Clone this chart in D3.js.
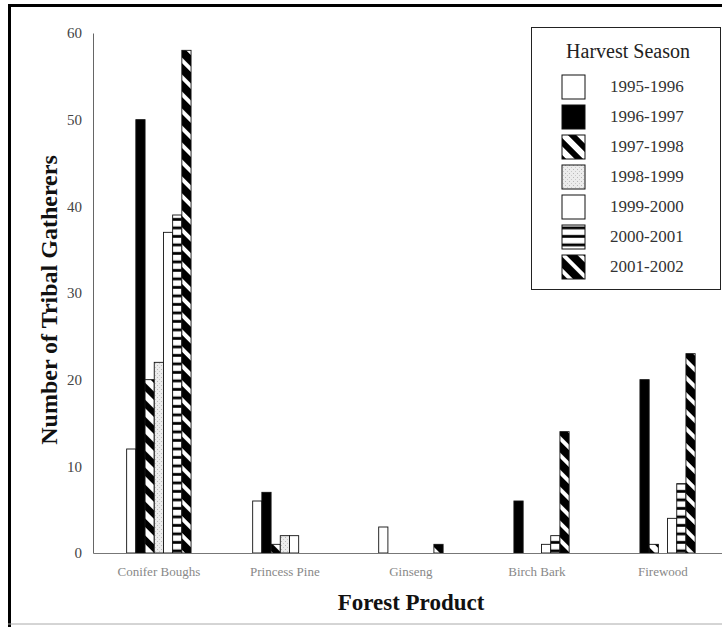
<!DOCTYPE html>
<html><head><meta charset="utf-8">
<script src="https://cdn.jsdelivr.net/npm/d3@7"></script>
<style>html,body{margin:0;padding:0;background:#fff;}svg{display:block;}</style>
</head><body>
<script>
const categories = ["Conifer Boughs", "Princess Pine", "Ginseng", "Birch Bark", "Firewood"];
const seasons = ["1995-1996", "1996-1997", "1997-1998", "1998-1999", "1999-2000", "2000-2001", "2001-2002"];
const s1995_1996 = [12, 6, 3, 0, 0];
const s1996_1997 = [50, 7, 0, 6, 20];
const s1997_1998 = [20, 1, 0, 0, 1];
const s1998_1999 = [22, 2, 0, 0, 0];
const s1999_2000 = [37, 2, 0, 1, 4];
const s2000_2001 = [39, 0, 0, 2, 8];
const s2001_2002 = [58, 0, 1, 14, 23];
const yTicks = [0, 10, 20, 30, 40, 50, 60];
const seriesValues = [s1995_1996, s1996_1997, s1997_1998, s1998_1999, s1999_2000, s2000_2001, s2001_2002];
const fills = ["#fff", "#000", "url(#diagA)", "url(#stipple)", "#fff", "url(#hstripe)", "url(#diagB)"];

const W = 722, H = 627;
const svg = d3.select("body").append("svg").attr("width", W).attr("height", H);
const defs = svg.append("defs");

// patterns
const pA = defs.append("pattern").attr("id", "diagA").attr("patternUnits", "userSpaceOnUse")
  .attr("width", 12).attr("height", 12).attr("patternTransform", "rotate(45)");
pA.append("rect").attr("width", 12).attr("height", 12).attr("fill", "#fff");
pA.append("rect").attr("width", 12).attr("height", 6).attr("fill", "#000");
const pB = defs.append("pattern").attr("id", "diagB").attr("patternUnits", "userSpaceOnUse")
  .attr("width", 12).attr("height", 12).attr("patternTransform", "rotate(45)");
pB.append("rect").attr("width", 12).attr("height", 12).attr("fill", "#fff");
pB.append("rect").attr("width", 12).attr("height", 8).attr("fill", "#000");
const pH = defs.append("pattern").attr("id", "hstripe").attr("patternUnits", "userSpaceOnUse")
  .attr("width", 8).attr("height", 8.5);
pH.append("rect").attr("width", 8).attr("height", 8.5).attr("fill", "#fff");
pH.append("rect").attr("y", 5.5).attr("width", 8).attr("height", 2.8).attr("fill", "#000");
const pS = defs.append("pattern").attr("id", "stipple").attr("patternUnits", "userSpaceOnUse")
  .attr("width", 4).attr("height", 4);
pS.append("rect").attr("width", 4).attr("height", 4).attr("fill", "#ececec");
pS.append("rect").attr("x", 1).attr("y", 1).attr("width", 1).attr("height", 1).attr("fill", "#b8b8b8");
pS.append("rect").attr("x", 3).attr("y", 3).attr("width", 1).attr("height", 1).attr("fill", "#c8c8c8");

// frame
svg.append("rect").attr("x", 8).attr("y", 4).attr("width", W - 8).attr("height", 3).attr("fill", "#000");
svg.append("rect").attr("x", 8).attr("y", 4).attr("width", 3).attr("height", H - 4).attr("fill", "#000");
svg.append("line").attr("x1", 8).attr("x2", W).attr("y1", 624).attr("y2", 624).attr("stroke", "#aaa").attr("stroke-width", 1);

// scales
const x = d3.scaleBand().domain(categories).range([93, 728.8]).paddingInner(0.489).paddingOuter(0.267);
const xs = d3.scaleBand().domain(seasons).range([0, x.bandwidth()]);
const y = d3.scaleLinear().domain([0, 60]).range([553, 33]);

// bars
seasons.forEach((s, si) => {
  const vals = seriesValues[si];
  svg.append("g").selectAll("rect").data(categories.map((c, ci) => ({c, v: vals[ci]})).filter(d => d.v > 0))
    .join("rect")
    .attr("x", d => x(d.c) + xs(s))
    .attr("y", d => y(d.v))
    .attr("width", xs.bandwidth())
    .attr("height", d => y(0) - y(d.v))
    .attr("fill", fills[si])
    .attr("stroke", "#111").attr("stroke-width", 0.9);
});

// axes
const yAxis = svg.append("g").attr("transform", "translate(93,0)")
  .call(d3.axisLeft(y).tickValues(yTicks).tickSize(0).tickPadding(11));
yAxis.select(".domain").attr("stroke", "#666");
yAxis.selectAll("text").attr("font-family", "Liberation Serif").attr("font-size", 15).attr("fill", "#444");

const xAxis = svg.append("g").attr("transform", "translate(0,553)")
  .call(d3.axisBottom(x).tickSize(0).tickPadding(14));
xAxis.select(".domain").attr("stroke", "#777");
xAxis.selectAll("text").attr("font-family", "Liberation Serif").attr("font-size", 13).attr("fill", "#888");

// titles
svg.append("text").attr("transform", "translate(57,300) rotate(-90)").attr("text-anchor", "middle")
  .attr("font-family", "Liberation Serif").attr("font-weight", "bold").attr("font-size", 24)
  .attr("fill", "#111").text("Number of Tribal Gatherers");
svg.append("text").attr("x", 411).attr("y", 610).attr("text-anchor", "middle")
  .attr("font-family", "Liberation Serif").attr("font-weight", "bold").attr("font-size", 23)
  .attr("fill", "#111").text("Forest Product");

// legend
const lg = svg.append("g");
lg.append("rect").attr("x", 531.5).attr("y", 27.5).attr("width", 189).attr("height", 262)
  .attr("fill", "#fff").attr("stroke", "#222").attr("stroke-width", 1);
lg.append("text").attr("x", 628).attr("y", 58).attr("text-anchor", "middle")
  .attr("font-family", "Liberation Serif").attr("font-size", 20).attr("fill", "#222").text("Harvest Season");
seasons.forEach((s, i) => {
  lg.append("rect").attr("x", 562).attr("y", 75 + i * 30).attr("width", 23).attr("height", 24)
    .attr("fill", fills[i]).attr("stroke", "#111").attr("stroke-width", 1);
  lg.append("text").attr("x", 610).attr("y", 92 + i * 30)
    .attr("font-family", "Liberation Serif").attr("font-size", 17).attr("fill", "#333").text(s);
});
</script>
</body></html>
